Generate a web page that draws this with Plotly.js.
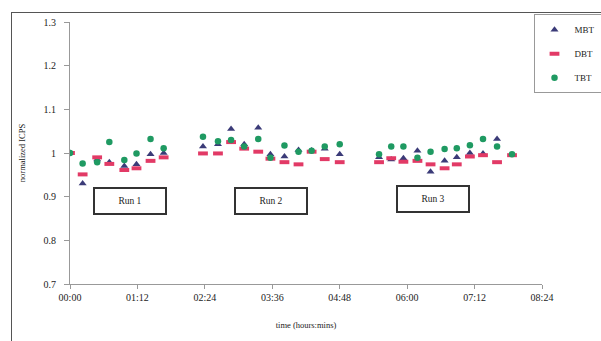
<!DOCTYPE html>
<html>
<head>
<meta charset="utf-8">
<script src="https://cdn.plot.ly/plotly-3.0.1.min.js"></script>
<style>
html,body{margin:0;padding:0;background:#fff;overflow:hidden;}
#wrap{position:relative;width:601px;height:341px;overflow:hidden;}
#chart{position:absolute;left:0;top:0;width:601px;height:341px;}
#frame{position:absolute;left:11px;top:12px;width:620px;height:360px;border:1.5px solid #555;pointer-events:none;}
</style>
</head>
<body>
<div id="wrap"><div id="chart"></div><div id="frame"></div></div>
<script>
// time in minutes since start
const timeMin = [0, 13.5, 29, 42, 58, 71, 86, 100,
  142, 158, 172, 186, 201, 214, 229, 244, 258, 272, 288,
  330, 343, 356, 371, 385, 400, 413, 427, 441, 456, 472];
const mbt = [1.0, 0.93, 0.985, 0.979, 0.97, 0.974, 0.997, 1.0,
  1.015, 1.02, 1.055, 1.02, 1.058, 0.997, 0.992, 1.007, 1.006, 1.01, 0.997,
  0.99, 0.985, 0.988, 1.005, 0.957, 0.982, 0.99, 1.0, 0.999, 1.032, 0.995];
const dbt = [1.0, 0.951, 0.99, 0.975, 0.961, 0.965, 0.982, 0.99,
  0.999, 0.999, 1.025, 1.01, 1.003, 0.987, 0.979, 0.974, 1.003, 0.986, 0.979,
  0.979, 0.988, 0.98, 0.982, 0.974, 0.965, 0.974, 0.992, 0.995, 0.979, 0.995];
const tbt = [1.0, 0.976, 0.979, 1.025, 0.984, 0.999, 1.032, 1.011,
  1.037, 1.027, 1.030, 1.015, 1.032, 0.989, 1.017, 1.003, 1.005, 1.015, 1.02,
  0.997, 1.015, 1.015, 0.989, 1.003, 1.009, 1.011, 1.018, 1.032, 1.015, 0.997];
const tickVals = [0, 72, 144, 216, 288, 360, 432, 504];
const tickText = ["00:00", "01:12", "02:24", "03:36", "04:48", "06:00", "07:12", "08:24"];
const yTicks = [0.7, 0.8, 0.9, 1, 1.1, 1.2, 1.3];
const yTickText = ["0.7", "0.8", "0.9", "1", "1.1", "1.2", "1.3"];
const runLabels = ["Run 1", "Run 2", "Run 3"];
const runX = [64, 215, 388];
const runY = [0.89, 0.89, 0.895];

const serif = "Liberation Serif, Times New Roman, serif";
const traces = [
  {x: timeMin, y: mbt, name: "MBT", type: "scatter", mode: "markers", legendgroup: "a",
   marker: {symbol: "triangle-up", size: 7, color: "#3b3b78"}},
  {x: timeMin, y: dbt, name: "DBT", type: "scatter", mode: "markers", legendgroup: "b",
   marker: {symbol: "line-ew-open", size: 7, color: "#e23a66", line: {color: "#e23a66", width: 4}}},
  {x: timeMin, y: tbt, name: "TBT", type: "scatter", mode: "markers", legendgroup: "c",
   marker: {symbol: "circle", size: 6.5, color: "#1f9a62"}}
];

const annotations = runLabels.map((t, i) => ({
  x: runX[i], y: runY[i], xref: "x", yref: "y", text: t, showarrow: false,
  font: {family: serif, size: 9.5, color: "#222"},
  bgcolor: "#fff", bordercolor: "#333", borderwidth: 2,
  width: 68, height: 22
}));

const layout = {
  width: 601, height: 341,
  margin: {l: 70, r: 59, t: 22, b: 57, autoexpand: false},
  paper_bgcolor: "#fff", plot_bgcolor: "#fff",
  font: {family: serif, size: 9, color: "#222"},
  showlegend: true,
  legend: {x: 0.982, y: 1.03, xanchor: "left", yanchor: "top",
    bordercolor: "#999", borderwidth: 1, bgcolor: "#fff",
    font: {family: serif, size: 9, color: "#222"},
    traceorder: "grouped", tracegroupgap: 5, itemwidth: 30},
  xaxis: {range: [0, 504], tickvals: tickVals, ticktext: tickText,
    showgrid: false, zeroline: false, showline: true, linecolor: "#999", linewidth: 1,
    ticks: "outside", ticklen: 4, tickcolor: "#999",
    tickfont: {family: serif, size: 10, color: "#222"},
    title: {text: "time (hours:mins)", font: {family: serif, size: 8.5, color: "#222"}, standoff: 20}},
  yaxis: {range: [0.7, 1.3], tickvals: yTicks, ticktext: yTickText,
    showgrid: false, zeroline: false, showline: true, linecolor: "#999", linewidth: 1,
    ticks: "outside", ticklen: 5, tickcolor: "#999", ticklabelstandoff: 6,
    tickfont: {family: serif, size: 10, color: "#222"},
    title: {text: "normalized ICPS", font: {family: serif, size: 8.5, color: "#222"}, standoff: 16}},
  annotations: annotations
};

Plotly.newPlot("chart", traces, layout, {displayModeBar: false, staticPlot: true});
</script>
</body>
</html>
